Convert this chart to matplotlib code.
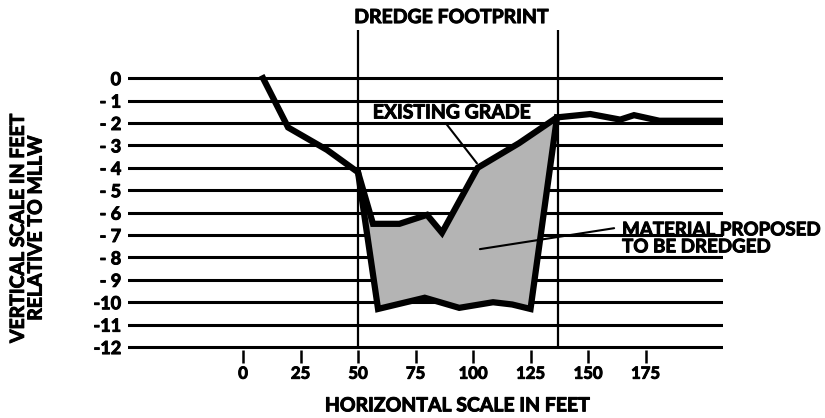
import numpy as np
import matplotlib.pyplot as plt
import matplotlib.patheffects as pe

# profile (feet, relative to MLLW)
existing_x = [8.7, 19.6, 36.5, 50, 56.5, 68, 80, 86.5, 102, 120, 136.5, 151, 164, 170, 181, 208.7]
existing_y = [0, -2.2, -3.2, -4.2, -6.5, -6.5, -6.1, -6.9, -4.0, -2.9, -1.75, -1.6, -1.85, -1.65, -1.9, -1.9]
dredge_x = [50, 58.7, 79, 94, 108.7, 117, 125, 136.5]
dredge_y = [-4.2, -10.3, -9.8, -10.25, -10.0, -10.1, -10.3, -1.75]
footprint = [50, 137]
depths = list(range(0, -13, -1))
depth_labels = ['0'] + ['- %d' % d for d in range(1, 10)] + ['-10', '-11', '-12']
xticks = [0, 25, 50, 75, 100, 125, 150, 175]

plt.rcParams['font.family'] = ['Lato', 'DejaVu Sans']
plt.rcParams['font.weight'] = 'bold'
heavy = [pe.withStroke(linewidth=0.7, foreground='black')]

fig = plt.figure(figsize=(8.25, 4.18), dpi=100)
ax = fig.add_axes([0.1552, 0.1617, 0.7212, 0.7665])
ax.set_xlim(-50, 208.7)
ax.set_ylim(-12.15, 2.15)

for d in depths:
    ax.axhline(d, color='black', lw=2.2, zorder=1)

for fx in footprint:
    ax.plot([fx, fx], [-12, 2.15], color='black', lw=1.6, zorder=2)

# shaded dredge prism between existing grade and dredge cut
ex = np.array(existing_x)
ey = np.array(existing_y)
m = (ex >= 50) & (ex <= 136.5)
poly_x = np.concatenate([ex[m], dredge_x[::-1]])
poly_y = np.concatenate([ey[m], dredge_y[::-1]])
ax.fill(poly_x, poly_y, color='#b4b4b4', zorder=3, lw=0)

ax.plot(dredge_x, dredge_y, color='black', lw=4.5, zorder=4, solid_joinstyle='miter')
ax.plot(existing_x, existing_y, color='black', lw=4.5, zorder=5, solid_joinstyle='miter')

ax.annotate('EXISTING GRADE', xy=(101.7, -3.8), xytext=(91, -1.55),
            ha='center', va='center', fontsize=14, fontweight='bold', path_effects=heavy,
            arrowprops=dict(arrowstyle='-', color='black', lw=1.5,
                            shrinkA=0, shrinkB=0, relpos=(0.45, 0.0)))
ax.annotate('MATERIAL PROPOSED\nTO BE DREDGED', xy=(103, -7.63), xytext=(164.8, -7.15),
            ha='left', va='center', fontsize=13.5, fontweight='bold', linespacing=1.0,
            annotation_clip=False, path_effects=heavy,
            arrowprops=dict(arrowstyle='-', color='black', lw=1.5,
                            shrinkA=0, shrinkB=0, relpos=(-0.04, 0.8)))

ax.set_yticks(depths)
ax.set_yticklabels(depth_labels, fontsize=13, fontweight='bold')
ax.set_xticks(xticks)
ax.set_xticklabels([str(t) for t in xticks], fontsize=12, fontweight='bold')
for lab in ax.get_yticklabels() + ax.get_xticklabels():
    lab.set_path_effects(heavy)
ax.tick_params(axis='y', length=0, pad=5)
ax.tick_params(axis='x', length=9, width=1.8, direction='out', pad=2)
for s in ax.spines.values():
    s.set_visible(False)

fig.text(452 / 825, 0.958, 'DREDGE FOOTPRINT', ha='center', va='center',
         fontsize=14, fontweight='bold', path_effects=heavy)
fig.text(458 / 825, 0.029, 'HORIZONTAL SCALE IN FEET', ha='center', va='center',
         fontsize=14, fontweight='bold', path_effects=heavy)
fig.text(0.033, 0.455, 'VERTICAL SCALE IN FEET\nRELATIVE TO MLLW', rotation=90,
         ha='center', va='center', fontsize=14, fontweight='bold', linespacing=1.05,
         path_effects=heavy)

fig.savefig('out.png', dpi=100)
